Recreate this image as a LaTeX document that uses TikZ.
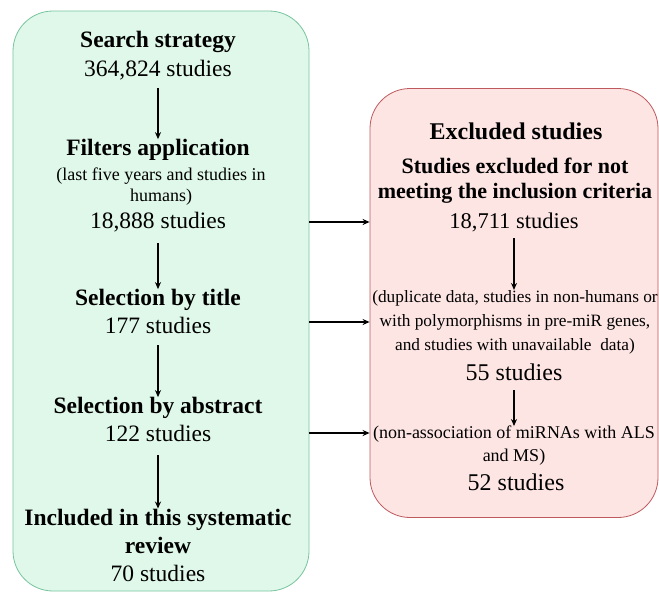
\documentclass[tikz,border=0pt]{standalone}
\usepackage{fontspec}
\setmainfont{Liberation Serif}
\usetikzlibrary{positioning,arrows.meta}
\definecolor{grfill}{RGB}{223,248,233}
\definecolor{grline}{RGB}{120,196,158}
\definecolor{rdfill}{RGB}{253,229,227}
\definecolor{rdline}{RGB}{190,90,95}
\tikzset{
  gbox/.style={rectangle, rounded corners=40pt, draw=grline, fill=grfill, line width=0.8pt},
  rbox/.style={rectangle, rounded corners=40pt, draw=rdline, fill=rdfill, line width=0.8pt},
  hd/.style={font=\fontsize{23.5}{25}\selectfont\bfseries, align=center, inner sep=0pt},
  num/.style={font=\fontsize{23.5}{25}\selectfont, inner sep=0pt},
  nt/.style={font=\fontsize{18}{21}\selectfont, align=center, inner sep=0pt},
  ar/.style={-{Stealth[length=7pt,width=6pt]}, line width=1.5pt}
}
\begin{document}
\begin{tikzpicture}[x=1pt,y=-1pt]
	\useasboundingbox (0,0) rectangle (659,594);
	\node[gbox, minimum width=296pt, minimum height=580pt] (green) at (161,301) {};
	\node[rbox, minimum width=288pt, minimum height=429pt] (red) at (514,303) {};
	
	% left column
	\node[hd] (search) at (158,42) {Search strategy};
	\node[num] (n1) at (158,70) {364,824 studies};
	\node[hd] (filter) at (158,150) {Filters application};
	\node[nt] (filtxt) at (161,187) {(last five years and studies in\\humans)};
	\node[num] (n2) at (158,222) {18,888 studies};
	\node[hd] (title) at (158,300) {Selection by title};
	\node[num] (n3) at (158,325) {177 studies};
	\node[hd] (abstr) at (158,408) {Selection by abstract};
	\node[num] (n4) at (158,433) {122 studies};
	\node[hd, font=\fontsize{23.5}{28}\selectfont\bfseries] (incl) at (158,531) {Included in this systematic\\review};
	\node[num] (n5) at (158,573) {70 studies};
	
	\draw[ar] (n1.south |- 0,88) -- (n1.south |- filter.north);
	\draw[ar] (n2.south |- 0,243) -- (n2.south |- title.north);
	\draw[ar] (n3.south |- 0,345) -- (n3.south |- abstr.north);
	\draw[ar] (n4.south |- 0,455) -- (n4.south |- incl.north);
	
	% right column
	\node[hd, font=\fontsize{24}{26}\selectfont\bfseries] (excl) at (516,131) {Excluded studies};
	\node[hd, font=\fontsize{22}{25}\selectfont\bfseries] (notmeet) at (515,181) {Studies excluded for not\\meeting the inclusion criteria};
	\node[num, font=\fontsize{22.5}{25}\selectfont] (r1) at (514,222) {18,711 studies};
	\node[nt, font=\fontsize{17.3}{24}\selectfont] (dup) at (515,322) {(duplicate data, studies in non-humans or\\with polymorphisms in pre-miR genes,\\and studies with unavailable~~data)};
	\node[num, font=\fontsize{24}{26}\selectfont] (r2) at (514,372) {55 studies};
	\node[nt, font=\fontsize{18}{23}\selectfont] (assoc) at (514,446) {(non-association of miRNAs with ALS\\and MS)};
	\node[num, font=\fontsize{24}{26}\selectfont] (r3) at (516,482) {52 studies};
	
	\draw[ar] (r1.south |- 0,238) -- (r1.south |- dup.north);
	\draw[ar] (r2.south |- 0,390) -- (r2.south |- assoc.north);
	
	\draw[ar] (green.east |- n2) -- (red.west |- n2);
	\draw[ar] (green.east |- 0,322) -- (red.west |- 0,322);
	\draw[ar] (green.east |- n4) -- (red.west |- n4);
\end{tikzpicture}
\end{document}
